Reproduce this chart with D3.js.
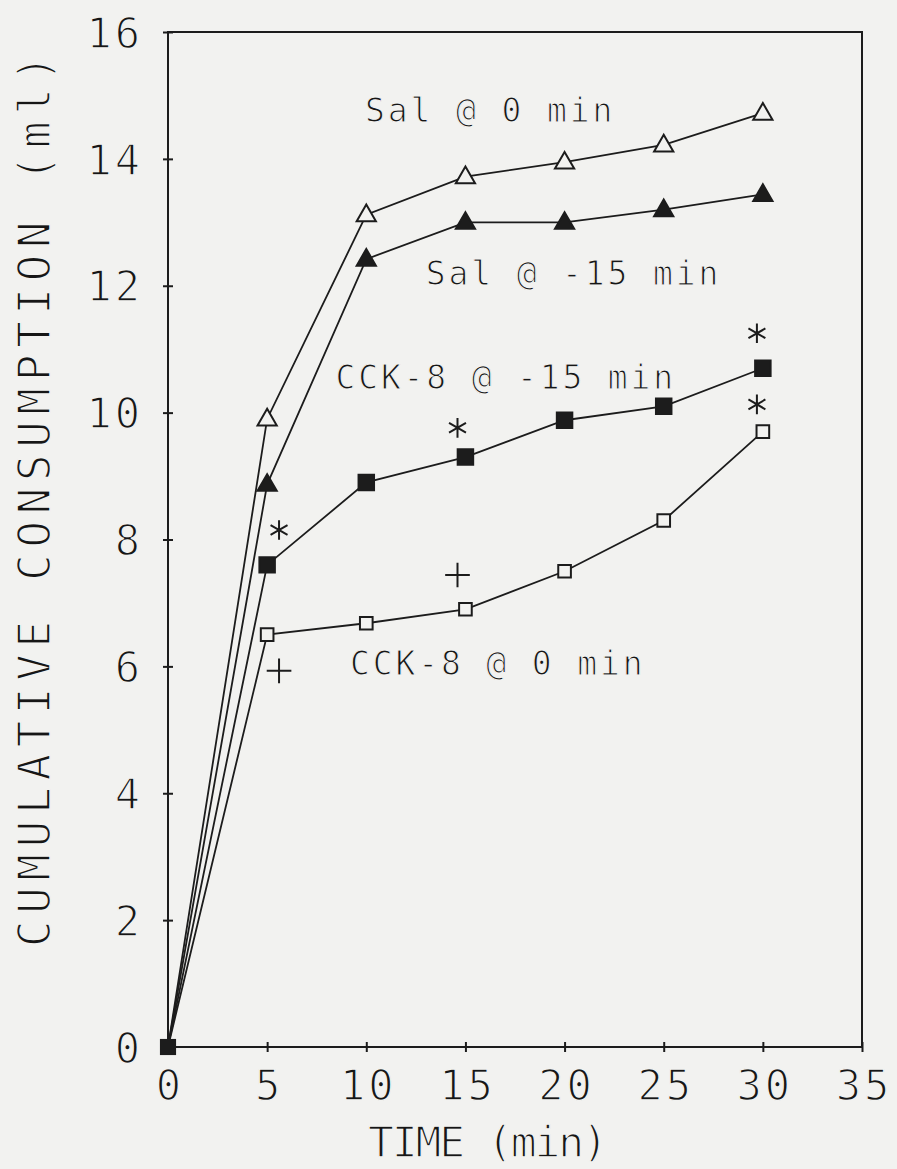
<!DOCTYPE html>
<html>
<head>
<meta charset="utf-8">
<script src="https://cdn.jsdelivr.net/npm/d3@7"></script>
<style>
  body { margin: 0; background: #f2f2f0; }
  svg text {
    font-family: "DejaVu Sans Mono", "Liberation Mono", monospace;
    fill: #161616;
    stroke: #f2f2f0;
  }
</style>
</head>
<body>
<svg id="chart"></svg>
<script>
// Data
var times = [0, 5, 10, 15, 20, 25, 30]
var salZero = [0, 9.9, 13.12, 13.72, 13.95, 14.22, 14.72]
var salMinus15 = [0, 8.87, 12.42, 13.0, 13.0, 13.2, 13.44]
var cckMinus15 = [0, 7.6, 8.9, 9.3, 9.88, 10.1, 10.7]
var cckZero = [0, 6.5, 6.68, 6.9, 7.5, 8.3, 9.7]

var xTicks = [0, 5, 10, 15, 20, 25, 30, 35]
var yTicks = [0, 2, 4, 6, 8, 10, 12, 14, 16]

// significance marks (asterisk / plus) in data units
var stars = [[5.6, 8.15], [14.6, 9.76], [29.7, 11.25], [29.7, 10.13]]
var pluses = [[5.6, 5.93], [14.6, 7.44]]

var labels = [
  { text: 'Sal @ 0 min', x: 9.93, y: 14.58 },
  { text: 'Sal @ -15 min', x: 13.0, y: 12.01 },
  { text: 'CCK-8 @ -15 min', x: 8.45, y: 10.37 },
  { text: 'CCK-8 @ 0 min', x: 9.18, y: 5.86 }
]

var conf = {
  width: 897,
  height: 1169,
  left: 168,
  right: 862,
  top: 32,
  bottom: 1047,
  ink: '#1c1c1c',
  paper: '#f2f2f0',
  charStep: 22.5
}

var svg = d3.select('#chart')
  .attr('width', conf.width)
  .attr('height', conf.height)

svg.append('rect')
  .attr('width', conf.width)
  .attr('height', conf.height)
  .attr('fill', conf.paper)

var x = d3.scaleLinear().domain([0, 35]).range([conf.left, conf.right])
var y = d3.scaleLinear().domain([0, 16]).range([conf.bottom, conf.top])

// Frame
svg.append('rect')
  .attr('x', conf.left)
  .attr('y', conf.top)
  .attr('width', conf.right - conf.left)
  .attr('height', conf.bottom - conf.top)
  .attr('fill', 'none')
  .attr('stroke', conf.ink)
  .attr('stroke-width', 2)

// Axes
var xAxis = svg.append('g')
  .attr('transform', 'translate(0,' + conf.bottom + ')')
  .call(d3.axisBottom(x).tickValues(xTicks).tickSize(5).tickFormat(d3.format('d')))
var yAxis = svg.append('g')
  .attr('transform', 'translate(' + conf.left + ',0)')
  .call(d3.axisLeft(y).tickValues(yTicks).tickSize(5).tickFormat(d3.format('d')))

svg.selectAll('.domain').remove()
xAxis.selectAll('.tick line').attr('y1', -5).attr('y2', 5)
yAxis.selectAll('.tick line').attr('x1', -5).attr('x2', 5)
svg.selectAll('.tick line').attr('stroke', conf.ink).attr('stroke-width', 2)

svg.selectAll('.tick text')
  .attr('fill', null)
  .style('font-size', '42px')
  .style('stroke-width', '1.4px')
  .style('letter-spacing', '3px')
xAxis.selectAll('.tick text')
  .attr('y', 53)
  .attr('dx', '1.5')
  .attr('dy', null)
yAxis.selectAll('.tick text')
  .attr('x', -25)
  .attr('dy', '0.36em')

// Axis titles
svg.append('text')
  .attr('x', 368)
  .attr('y', 1157)
  .attr('textLength', 240)
  .attr('lengthAdjust', 'spacing')
  .style('font-size', '43px')
  .style('stroke-width', '1.4px')
  .text('TIME (min)')

svg.append('text')
  .attr('transform', 'translate(50,501) rotate(-90)')
  .attr('text-anchor', 'middle')
  .attr('textLength', 892)
  .attr('lengthAdjust', 'spacing')
  .style('font-size', '44px')
  .style('stroke-width', '1.5px')
  .text('CUMULATIVE CONSUMPTION (ml)')

// Series
var series = [
  { values: salZero, shape: d3.symbolTriangle, filled: false },
  { values: salMinus15, shape: d3.symbolTriangle, filled: true },
  { values: cckMinus15, shape: d3.symbolSquare, filled: true },
  { values: cckZero, shape: d3.symbolSquare, filled: false }
]

var line = d3.line()
  .x(function (d) { return x(d[0]) })
  .y(function (d) { return y(d[1]) })

series.forEach(function (s) {
  var pts = times.map(function (t, i) { return [t, s.values[i]] })
  var isTri = s.shape === d3.symbolTriangle

  svg.append('path')
    .datum(pts)
    .attr('d', line)
    .attr('fill', 'none')
    .attr('stroke', conf.ink)
    .attr('stroke-width', 1.8)

  var size = isTri ? 160 : (s.filled ? 240 : 160)
  svg.selectAll(null)
    .data(pts.slice(1))
    .enter()
    .append('path')
    .attr('d', d3.symbol().type(s.shape).size(size))
    .attr('transform', function (d) {
      return 'translate(' + x(d[0]) + ',' + (y(d[1]) + (isTri ? 1 : 0)) + ')'
    })
    .attr('fill', s.filled ? conf.ink : conf.paper)
    .attr('stroke', conf.ink)
    .attr('stroke-width', 2)
})

// Origin marker
svg.append('path')
  .attr('d', d3.symbol().type(d3.symbolSquare).size(260))
  .attr('transform', 'translate(' + x(0) + ',' + y(0) + ')')
  .attr('fill', conf.ink)

// Significance marks
svg.selectAll('path.star')
  .data(stars)
  .enter()
  .append('path')
  .attr('class', 'star')
  .attr('d', d3.symbol().type(d3.symbolAsterisk).size(270))
  .attr('transform', function (d) { return 'translate(' + x(d[0]) + ',' + y(d[1]) + ')' })
  .attr('fill', 'none')
  .attr('stroke', conf.ink)
  .attr('stroke-width', 2)

svg.selectAll('path.plus')
  .data(pluses)
  .enter()
  .append('path')
  .attr('class', 'plus')
  .attr('d', d3.symbol().type(d3.symbolTimes).size(200))
  .attr('transform', function (d) { return 'translate(' + x(d[0]) + ',' + y(d[1]) + ') rotate(45)' })
  .attr('fill', 'none')
  .attr('stroke', conf.ink)
  .attr('stroke-width', 2)

// Series labels
svg.selectAll('text.label')
  .data(labels)
  .enter()
  .append('text')
  .attr('class', 'label')
  .attr('x', function (d) { return x(d.x) })
  .attr('y', function (d) { return y(d.y) })
  .attr('textLength', function (d) { return d.text.length * conf.charStep })
  .attr('lengthAdjust', 'spacing')
  .style('font-size', '33px')
  .style('stroke-width', '1.1px')
  .text(function (d) { return d.text })
</script>
</body>
</html>
